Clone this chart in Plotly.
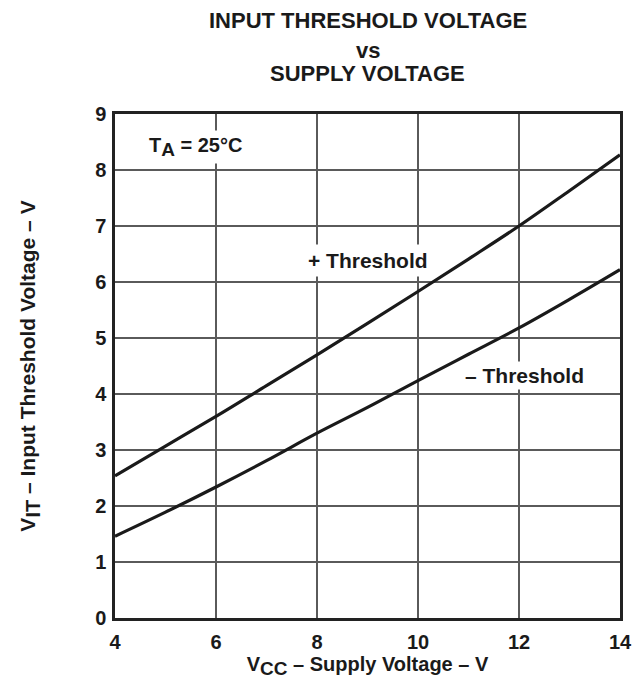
import plotly.graph_objects as go

# Data
vcc = [4, 5, 6, 7, 8, 9, 10, 11, 12, 13, 14]
vit_pos = [2.54, 3.07, 3.60, 4.15, 4.70, 5.26, 5.83, 6.41, 7.00, 7.63, 8.27]
vit_neg = [1.46, 1.89, 2.34, 2.81, 3.30, 3.76, 4.24, 4.71, 5.18, 5.69, 6.22]

x_ticks = [4, 6, 8, 10, 12, 14]
y_ticks = [0, 1, 2, 3, 4, 5, 6, 7, 8, 9]

FONT = "Liberation Sans, Arial, sans-serif"
INK = "#1a1a1a"

def f(size):
    return dict(size=size, family=FONT, color=INK, weight="bold")

fig = go.Figure()
for ys in (vit_pos, vit_neg):
    fig.add_trace(go.Scatter(x=vcc, y=ys, mode="lines",
                             line=dict(color=INK, width=3.2, shape="spline", smoothing=1.0),
                             showlegend=False, hoverinfo="skip"))

fig.update_layout(
    width=644, height=683,
    margin=dict(l=115, r=22, t=114, b=64),
    paper_bgcolor="white", plot_bgcolor="white",
    font=dict(family=FONT, color=INK),
)
fig.update_xaxes(range=[4, 14], tickvals=x_ticks, showgrid=True, gridcolor="#5a5a5a", gridwidth=1.5,
                 showline=True, linecolor="#222", linewidth=2.5, mirror=True, zeroline=False,
                 tickfont=f(20), ticks="", ticklabelstandoff=4,
                 title=dict(text="V<sub><span style='font-size:19px'>CC</span></sub> – Supply Voltage – V",
                            font=f(20), standoff=4))
fig.update_yaxes(range=[0, 9], tickvals=y_ticks, showgrid=True, gridcolor="#5a5a5a", gridwidth=1.5,
                 showline=True, linecolor="#222", linewidth=2.5, mirror=True, zeroline=False,
                 tickfont=f(20), ticks="", ticklabelstandoff=2,
                 title=dict(text="V<sub><span style='font-size:20px'>IT</span></sub> – Input Threshold Voltage – V",
                            font=f(21), standoff=54))

title_lines = [("INPUT THRESHOLD VOLTAGE", 20), ("vs", 50), ("SUPPLY VOLTAGE", 73)]
for txt, ypx in title_lines:
    fig.add_annotation(text=txt, xref="paper", yref="paper",
                       x=0.5, y=1 + (114 - ypx) / 505.0, xanchor="center", yanchor="middle",
                       showarrow=False, font=f(22))

fig.add_annotation(text="T<sub><span style='font-size:19px'>A</span></sub> = 25°C", x=5.6, y=8.41,
                   showarrow=False, font=f(20), bgcolor="white", borderpad=3)
fig.add_annotation(text="+ Threshold", x=9.0, y=6.39, showarrow=False,
                   font=f(21), bgcolor="white", borderpad=4)
fig.add_annotation(text="– Threshold", x=12.1, y=4.33, showarrow=False,
                   font=f(21), bgcolor="white", borderpad=2)

fig.write_html("out.html", config={"displayModeBar": False},
               post_script="document.body.style.margin='0';")
